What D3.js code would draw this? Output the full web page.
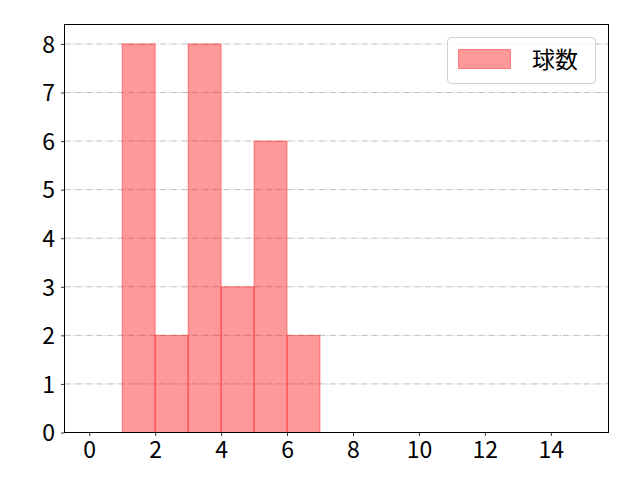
<!DOCTYPE html>
<html>
<head>
<meta charset="utf-8">
<script src="https://cdn.jsdelivr.net/npm/d3@7"></script>
<style>
body { margin: 0; background: #fff; }
text { font-family: "Noto Sans CJK JP", "DejaVu Sans", sans-serif; }
</style>
</head>
<body>
<svg width="640" height="480"></svg>
<script>
// histogram bins (left edge) and counts
var binStarts = [1, 2, 3, 4, 5, 6];
var binWidth = 1;
var counts = [8, 2, 8, 3, 6, 2];
var xTicks = [0, 2, 4, 6, 8, 10, 12, 14];
var yTicks = [0, 1, 2, 3, 4, 5, 6, 7, 8];
var seriesName = "球数";

var svg = d3.select("svg");
var plotLeft = 64.5, plotRight = 608.5, plotTop = 24.5, plotBottom = 432.5;

var x = d3.scaleLinear().domain([-0.75, 15.75]).range([plotLeft, plotRight]);
var y = d3.scaleLinear().domain([0, 8.4]).range([plotBottom, plotTop]);

// grid lines
svg.selectAll(".grid")
	.data(yTicks)
	.enter()
	.append("line")
	.attr("class", "grid")
	.attr("x1", plotLeft)
	.attr("x2", plotRight)
	.attr("y1", function(d) { return y(d); })
	.attr("y2", function(d) { return y(d); })
	.attr("stroke", "#b0b0b0")
	.attr("stroke-width", 0.8)
	.attr("stroke-dasharray", "6.4,1.6,1,1.6");

// bars
svg.selectAll(".bar")
	.data(counts)
	.enter()
	.append("rect")
	.attr("class", "bar")
	.attr("x", function(d, i) { return x(binStarts[i]); })
	.attr("width", function(d, i) { return x(binStarts[i] + binWidth) - x(binStarts[i]); })
	.attr("y", function(d) { return y(d); })
	.attr("height", function(d) { return y(0) - y(d); })
	.attr("fill", "rgba(255,0,0,0.4)")
	.attr("stroke", "rgba(255,0,0,0.4)")
	.attr("stroke-width", 1);

// axes
var xAxis = svg.append("g")
	.attr("transform", "translate(0," + plotBottom + ")")
	.call(d3.axisBottom(x).tickValues(xTicks).tickSize(3.5).tickPadding(4).tickFormat(d3.format("d")));
var yAxis = svg.append("g")
	.attr("transform", "translate(" + plotLeft + ",0)")
	.call(d3.axisLeft(y).tickValues(yTicks).tickSize(3.5).tickPadding(6).tickFormat(d3.format("d")));
[xAxis, yAxis].forEach(function(a) {
	a.attr("font-size", null).attr("font-family", null);
	a.select(".domain").remove();
	a.selectAll("line").attr("stroke", "#000").attr("stroke-width", 0.8);
	a.selectAll("text").attr("font-size", "23px").attr("fill", "#000");
});
xAxis.selectAll("text").attr("dy", "0.8em");
yAxis.selectAll("text").attr("dy", "0.36em");

// frame
svg.append("rect")
	.attr("x", plotLeft)
	.attr("y", plotTop)
	.attr("width", plotRight - plotLeft)
	.attr("height", plotBottom - plotTop)
	.attr("fill", "none")
	.attr("stroke", "#000")
	.attr("stroke-width", 1);

// legend
var lg = svg.append("g");
lg.append("rect")
	.attr("x", 447.5).attr("y", 37.5)
	.attr("width", 148).attr("height", 46)
	.attr("rx", 4)
	.attr("fill", "rgba(255,255,255,0.8)")
	.attr("stroke", "#d0d0d0");
lg.append("rect")
	.attr("x", 458.5).attr("y", 49.5)
	.attr("width", 52).attr("height", 19)
	.attr("fill", "rgba(255,0,0,0.4)")
	.attr("stroke", "rgba(255,0,0,0.4)");
lg.append("text")
	.attr("x", 532).attr("y", 68)
	.attr("font-size", "23px")
	.text(seriesName);
</script>
</body>
</html>
